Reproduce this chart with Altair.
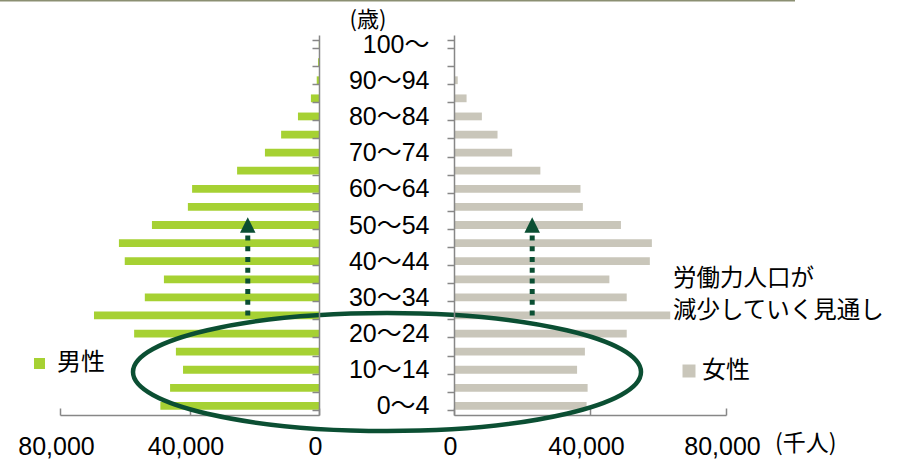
import altair as alt
import pandas as pd

# Age groups, top (oldest) to bottom (youngest)
ages = [
    "100～", "95～99", "90～94", "85～89", "80～84", "75～79", "70～74",
    "65～69", "60～64", "55～59", "50～54", "45～49", "40～44", "35～39",
    "30～34", "25～29", "20～24", "15～19", "10～14", "5～9", "0～4",
]
# Population by age group (thousand persons)
male = [
    50, 300, 700, 2500, 6500, 11700, 16700,
    25300, 39200, 40500, 51600, 61800, 60000, 47900,
    53800, 69500, 57100, 44200, 42000, 46000, 49000,
]
female = [
    50, 300, 1100, 3700, 8200, 12800, 17100,
    25400, 37200, 37900, 49100, 58200, 57600, 45700,
    50800, 63600, 50800, 38500, 36200, 39300, 39000,
]
x_ticks = [0, 40000, 80000]

# Arrow annotation: from the 25-29 cohort up to the 50-54 cohort
arrow_from = "25～29"
arrow_to = "50～54"
arrow_male_x = 22000
arrow_female_x = 23000

note_lines = ["労働力人口が", "減少していく見通し"]

df = pd.DataFrame({"age": ages, "male": male, "female": female})

W, H = 908, 461
AXIS_GRAY = "#878787"
MALE_COLOR = "#a6d133"
FEMALE_COLOR = "#c9c6ba"
DARK_GREEN = "#0b4f33"
NUM_FONT = "Liberation Sans, Noto Sans CJK JP"
JP_FONT = "Noto Sans CJK JP"

y_scale = alt.Scale(domain=ages, range=[35, 415], paddingInner=0.57, paddingOuter=0.285)
male_scale = alt.Scale(domain=[0, 80000], range=[319, 60])
female_scale = alt.Scale(domain=[0, 80000], range=[454, 726])


def x_axis():
    # ticks pointing up into the plot, labels below the baseline
    return alt.Axis(
        orient="top", offset=-415, values=x_ticks, format=",d", title=None,
        grid=False, tickSize=7, tickWidth=1.5, tickColor=AXIS_GRAY,
        domainColor=AXIS_GRAY, domainWidth=1.5, labelFlush=False,
        labelPadding=-38, labelBaseline="middle", labelOffset=-4,
        labelFont=NUM_FONT, labelFontSize=25, labelColor="#000000",
    )


male_y_axis = alt.Axis(
    orient="left", offset=-319, labels=False, title=None, grid=False,
    tickBand="extent", tickSize=7, tickWidth=1.5, tickColor=AXIS_GRAY,
    domainColor=AXIS_GRAY, domainWidth=1.5, zindex=1,
)
female_y_axis = alt.Axis(
    orient="left", offset=-454, title=None, grid=False,
    tickBand="extent", tickSize=7, tickWidth=1.5, tickColor=AXIS_GRAY,
    domainColor=AXIS_GRAY, domainWidth=1.5, zindex=1,
    labelExpr="parseInt(datum.value) % 10 == 0 ? datum.value : ''",
    labelPadding=18, labelFont=NUM_FONT, labelFontSize=25,
    labelColor="#000000", labelOverlap=False,
)

male_bars = alt.Chart(df).mark_bar(color=MALE_COLOR).encode(
    x=alt.X("male:Q", scale=male_scale, axis=x_axis()),
    y=alt.Y("age:N", scale=y_scale, axis=male_y_axis),
)
female_bars = alt.Chart(df).mark_bar(color=FEMALE_COLOR).encode(
    x=alt.X("female:Q", scale=female_scale, axis=x_axis()),
    y=alt.Y("age:N", scale=y_scale, axis=female_y_axis),
)


def arrow(xval, scale):
    d = pd.DataFrame({"x": [xval], "y0": [arrow_from], "y1": [arrow_to]})
    shaft = alt.Chart(d).mark_rule(
        color=DARK_GREEN, strokeWidth=5, strokeDash=[5, 5.7]
    ).encode(
        x=alt.X("x:Q", scale=scale, axis=None),
        y=alt.Y("y0:N", scale=y_scale, axis=None),
        y2="y1:N",
    )
    head = alt.Chart(d).mark_point(
        shape="M 0 -1 L 1 1 L -1 1 Z", size=240, filled=True,
        color=DARK_GREEN, opacity=1,
    ).encode(
        x=alt.X("x:Q", scale=scale, axis=None),
        y=alt.Y("y1:N", scale=y_scale, axis=None),
    )
    return [shaft, head]


one = pd.DataFrame({"k": [0]})

ellipse = alt.Chart(one).mark_point(
    shape="M -1 0 A 1 0.2323 0 1 1 1 0 A 1 0.2323 0 1 1 -1 0 Z",
    size=(2 * 254) ** 2, filled=False, stroke=DARK_GREEN, strokeWidth=4.5,
    opacity=1,
).encode(x=alt.value(387), y=alt.value(372))

top_line = alt.Chart(one).mark_rule(color="#8b8f72", strokeWidth=1.5).encode(
    x=alt.value(0), x2=alt.value(795), y=alt.value(0.75)
)


def label(text, x, y, size, font=JP_FONT, align="left"):
    return alt.Chart(one).mark_text(
        text=text, font=font, fontSize=size, align=align, baseline="middle",
        color="#000000",
    ).encode(x=alt.value(x), y=alt.value(y))


legend_male_box = alt.Chart(one).mark_square(
    color=MALE_COLOR, size=121, opacity=1
).encode(x=alt.value(39.5), y=alt.value(363.5))
legend_female_box = alt.Chart(one).mark_square(
    color=FEMALE_COLOR, size=169, opacity=1
).encode(x=alt.value(689), y=alt.value(371))

layers = [
    top_line,
    male_bars,
    female_bars,
    *arrow(arrow_male_x, male_scale),
    *arrow(arrow_female_x, female_scale),
    ellipse,
    label("(歳)", 368, 20, 22, align="center"),
    label("(千人)", 775, 444, 23),
    label(note_lines[0], 673, 279, 23.5),
    label(note_lines[1], 673, 311, 23.5),
    legend_male_box,
    label("男性", 57, 363, 24),
    legend_female_box,
    label("女性", 702, 371, 24),
]

chart = (
    alt.layer(*layers)
    .resolve_scale(x="independent")
    .resolve_axis(x="independent", y="independent")
    .properties(
        width=W, height=H, padding=0,
        autosize=alt.AutoSizeParams(type="none"),
        background="#ffffff",
    )
    .configure_view(strokeWidth=0)
)

chart.save("out.html", embed_options={"renderer": "svg", "actions": False})
